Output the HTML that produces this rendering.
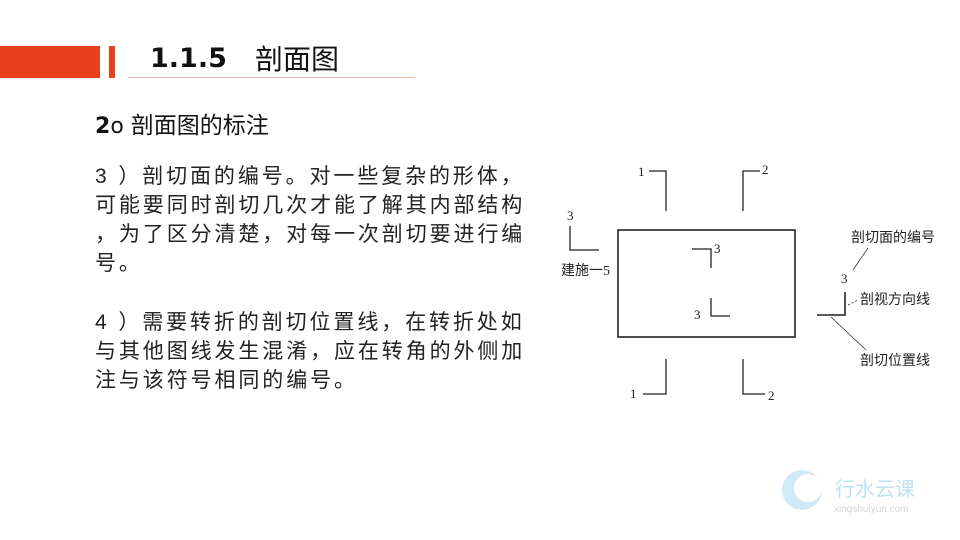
<!DOCTYPE html>
<html><head><meta charset="utf-8"><style>
body{margin:0;width:960px;height:540px;background:#fff;position:relative;overflow:hidden;font-family:"Liberation Sans","Noto Sans CJK SC",sans-serif;}
.a{position:absolute;white-space:nowrap;}
.p{font-size:21px;line-height:29px;color:#222;left:95px;letter-spacing:2.9px}
</style></head><body>
<div class="a" style="left:0;top:46px;width:100px;height:32px;background:#e8401c"></div>
<div class="a" style="left:109px;top:46px;width:6px;height:32px;background:#e8401c"></div>
<div class="a" style="left:128px;top:77px;width:287px;height:1px;background:#f0b8a8"></div>
<div class="a" style="left:150px;top:43px;font-size:27px;font-weight:bold;color:#111;font-family:'DejaVu Sans','Noto Sans CJK SC',sans-serif">1.1.5</div>
<div class="a" style="left:255px;top:38px;font-size:28px;color:#111;font-family:'Noto Sans CJK SC',sans-serif">剖面图</div>
<div class="a" style="left:95px;top:106px;font-size:22px;color:#111;font-family:'DejaVu Sans','Noto Sans CJK SC',sans-serif"><b>2</b>o <span style="font-family:'Noto Sans CJK SC',sans-serif;font-size:23px">剖面图的标注</span></div>
<div class="a p" style="top:162px">3 ）剖切面的编号。对一些复杂的形体，<br>可能要同时剖切几次才能了解其内部结构<br>，为了区分清楚，对每一次剖切要进行编<br>号。</div>
<div class="a p" style="top:308px">4 ）需要转折的剖切位置线，在转折处如<br>与其他图线发生混淆，应在转角的外侧加<br>注与该符号相同的编号。</div>
<svg class="a" style="left:0;top:0" width="960" height="540">
<g stroke="#222" fill="none" stroke-width="1.3">
<rect x="618" y="230" width="177" height="107" stroke-width="1.6"/>
<polyline points="649,171 666,171 666,211"/>
<polyline points="760,171 743,171 743,211"/>
<polyline points="570,226 570,250 599,250"/>
<polyline points="692,249 711,249 711,268"/>
<polyline points="711,298 711,316 730,316"/>
<polyline points="666,359 666,394 643,394"/>
<polyline points="743,359 743,394 765,394"/>
<polyline points="817,315 845,315 845,292" stroke-width="1.6"/>
<line x1="853" y1="270" x2="868" y2="248" stroke-width="0.7"/>
<line x1="848" y1="305" x2="858" y2="300" stroke-width="0.8" stroke-dasharray="2,2"/>
<line x1="831" y1="317" x2="866" y2="350" stroke-width="0.7"/>
</g>
<g font-family="Liberation Serif,serif" font-size="13" fill="#222">
<text x="638" y="176">1</text><text x="762" y="174">2</text>
<text x="567" y="220">3</text><text x="714" y="253">3</text>
<text x="694" y="319">3</text><text x="630" y="398">1</text>
<text x="768" y="400">2</text><text x="841" y="283">3</text>
</g>
<g font-family="Noto Sans CJK SC,sans-serif" font-size="14" fill="#222">
<text x="561" y="275">建施一<tspan font-family="Liberation Serif,serif">5</tspan></text>
<text x="851" y="242">剖切面的编号</text>
<text x="860" y="304">剖视方向线</text>
<text x="860" y="365">剖切位置线</text>
</g>
<g opacity="0.35">
<circle cx="802" cy="490" r="20" fill="#7cc4ea"/>
<circle cx="808" cy="488" r="14" fill="#fff"/>
<text x="835" y="496" font-family="Noto Sans CJK SC,sans-serif" font-size="20" fill="#4aa8dd">行水云课</text>
<text x="834" y="512" font-family="Liberation Sans,sans-serif" font-size="10" fill="#888">xingshuiyun.com</text>
</g>
</svg>
</body></html>
